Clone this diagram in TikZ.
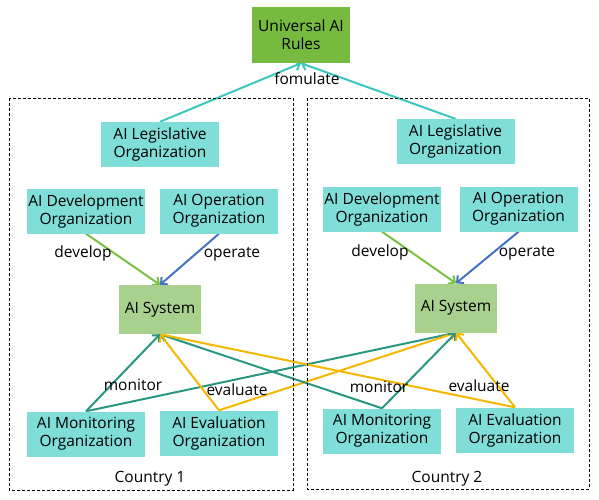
\documentclass[tikz,border=0pt]{standalone}
\usepackage{fontspec}
\setmainfont{Open Sans}
\usetikzlibrary{arrows.meta}
\pgfdeclarelayer{edgelayer}
\pgfdeclarelayer{nodelayer}
\pgfsetlayers{edgelayer,nodelayer,main}
\definecolor{orgcyan}{RGB}{128,222,216}
\definecolor{rulegreen}{RGB}{118,187,64}
\definecolor{sysgreen}{RGB}{169,209,142}
\definecolor{montea}{RGB}{42,150,130}
\definecolor{evalgold}{RGB}{245,183,0}
\definecolor{devgreen}{RGB}{122,193,67}
\definecolor{opblue}{RGB}{68,114,196}
\definecolor{formcyan}{RGB}{59,198,190}
\tikzstyle{org}=[fill=orgcyan,align=center,inner sep=0pt,minimum width=118pt,minimum height=45pt]
\tikzstyle{rules}=[fill=rulegreen,align=center,inner sep=0pt,minimum width=98pt,minimum height=56pt]
\tikzstyle{system}=[fill=sysgreen,inner sep=0pt,minimum width=82pt,minimum height=49pt]
\tikzstyle{country}=[draw=black,dash pattern=on 3pt off 2pt,line width=0.8pt]
\tikzstyle{lbl}=[inner sep=1pt]
\tikzstyle{relation}=[-{Straight Barb[length=5pt,width=10pt]},line width=2pt]

\begin{document}
\begin{tikzpicture}[x=1pt,y=-1pt,font=\fontsize{15.5}{18}\selectfont]
	\useasboundingbox (0,0) rectangle (599,500);
	\draw [style=country] (9,98) rectangle (293,490);
	\draw [style=country] (307,98) rectangle (589,489);
	\begin{pgfonlayer}{nodelayer}
		\node [style=rules] (0) at (301,35) {Universal AI\\Rules};
		\node [style=org] (1) at (160,144.5) {AI Legislative\\Organization};
		\node [style=org] (2) at (86,211) {AI Development\\Organization};
		\node [style=org] (3) at (219,211) {AI Operation\\Organization};
		\node [style=system] (4) at (160,309.5) {AI System};
		\node [style=org] (5) at (86,434) {AI Monitoring\\Organization};
		\node [style=org] (6) at (219,433) {AI Evaluation\\Organization};
		\node [style=org] (7) at (455.5,141.5) {AI Legislative\\Organization};
		\node [style=org] (8) at (382,209) {AI Development\\Organization};
		\node [style=org] (9) at (518.5,209) {AI Operation\\Organization};
		\node [style=system] (10) at (456,308) {AI System};
		\node [style=org] (11) at (382,431) {AI Monitoring\\Organization};
		\node [style=org] (12) at (515,430) {AI Evaluation\\Organization};
		\node [style=lbl] (13) at (307,79) {fomulate};
		\node [style=lbl] (14) at (83,253) {develop};
		\node [style=lbl] (15) at (232,254) {operate};
		\node [style=lbl] (16) at (133,385) {monitor};
		\node [style=lbl] (17) at (237,390) {evaluate};
		\node [style=lbl] (18) at (380,252) {develop};
		\node [style=lbl] (19) at (527,253) {operate};
		\node [style=lbl] (20) at (379,387) {monitor};
		\node [style=lbl] (21) at (479,386) {evaluate};
		\node [style=lbl] (22) at (150,479) {Country 1};
		\node [style=lbl] (23) at (447,479) {Country 2};
	\end{pgfonlayer}
	\begin{pgfonlayer}{edgelayer}
		\draw [style=relation, draw=formcyan] (1.north) to (0.south);
		\draw [style=relation, draw=formcyan] (7.north) to (0.south);
		\draw [style=relation, draw=devgreen] (2.south) to (4.north);
		\draw [style=relation, draw=opblue] (3.south) to (4.north);
		\draw [style=relation, draw=devgreen] (8.south) to (10.north);
		\draw [style=relation, draw=opblue] (9.south) to (10.north);
		\draw [style=relation, draw=montea] (5.north) to (4.south);
		\draw [style=relation, draw=montea] (5.north) to (10.south);
		\draw [style=relation, draw=evalgold] (6.north) to (4.south);
		\draw [style=relation, draw=evalgold] (6.north) to (10.south);
		\draw [style=relation, draw=montea] (11.north) to (10.south);
		\draw [style=relation, draw=montea] (11.north) to (4.south);
		\draw [style=relation, draw=evalgold] (12.north) to (10.south);
		\draw [style=relation, draw=evalgold] (12.north) to (4.south);
	\end{pgfonlayer}
\end{tikzpicture}
\end{document}
